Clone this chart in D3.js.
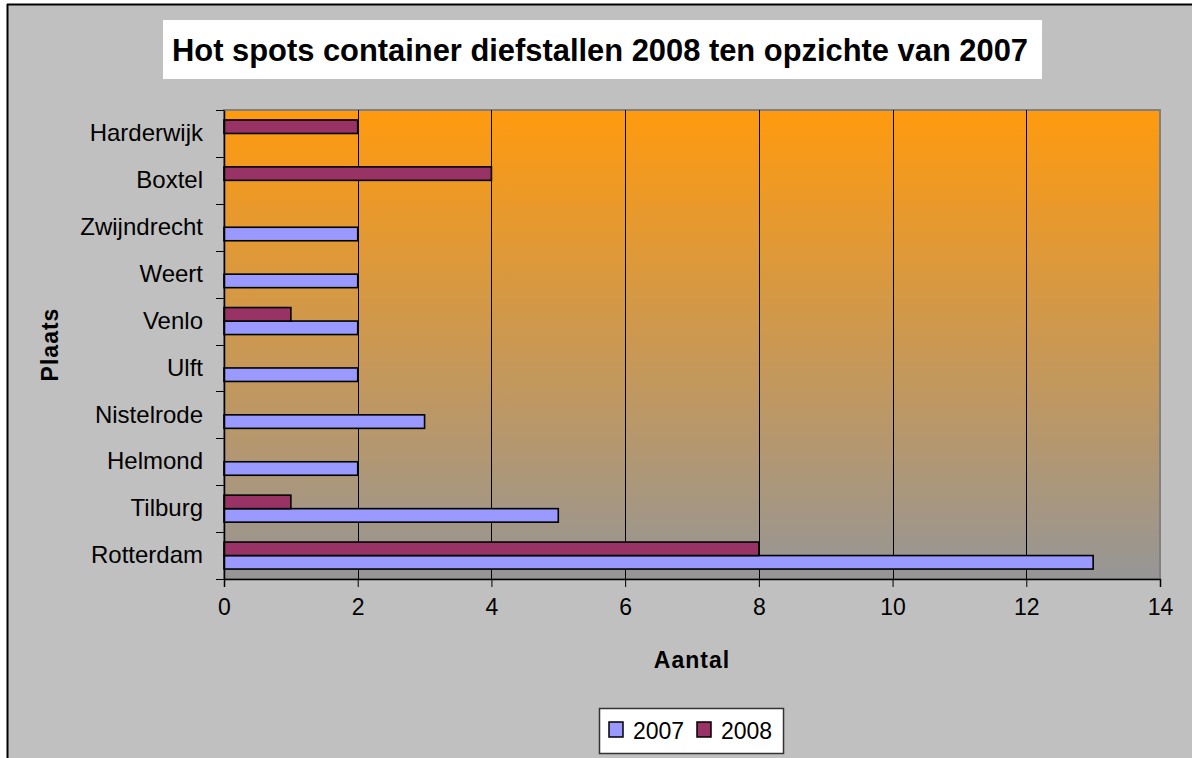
<!DOCTYPE html>
<html>
<head>
<meta charset="utf-8">
<script src="https://cdn.jsdelivr.net/npm/d3@7/dist/d3.min.js"></script>
<style>
  html, body { margin: 0; padding: 0; background: #ffffff; }
  svg { display: block; font-family: "Liberation Sans", Arial, sans-serif; }
</style>
</head>
<body>
<svg id="chart"></svg>
<script>
// data, bottom to top as in the original sheet
var plaatsen = ["Rotterdam", "Tilburg", "Helmond", "Nistelrode", "Ulft", "Venlo", "Weert", "Zwijndrecht", "Boxtel", "Harderwijk"];
var waarden2007 = [13, 5, 2, 3, 2, 2, 2, 2, 0, 0];
var waarden2008 = [8, 1, 0, 0, 0, 1, 0, 0, 4, 2];
var reeksen = ["2007", "2008"];
var kleuren = ["#9999ff", "#993366"];
var xTicks = [0, 2, 4, 6, 8, 10, 12, 14];

var w = 1192, h = 758;
var plot = { left: 224, top: 110, right: 1160, bottom: 579 };

var svg = d3.select("#chart").attr("width", w).attr("height", h);

// chart area
svg.append("rect").attr("x", 7).attr("y", 4).attr("width", w).attr("height", h).attr("fill", "#c0c0c0");
svg.append("line").attr("x1", 7.5).attr("x2", 7.5).attr("y1", 4).attr("y2", h).attr("stroke", "#000").attr("stroke-width", 2);
svg.append("line").attr("x1", 7).attr("x2", w).attr("y1", 4.5).attr("y2", 4.5).attr("stroke", "#000").attr("stroke-width", 2);

var defs = svg.append("defs");
var grad = defs.append("linearGradient").attr("id", "bg").attr("x1", 0).attr("y1", 0).attr("x2", 0).attr("y2", 1);
grad.append("stop").attr("offset", "0%").attr("stop-color", "#ff9a0e");
grad.append("stop").attr("offset", "100%").attr("stop-color", "#969696");

var x = d3.scaleLinear().domain([0, 14]).range([plot.left, plot.right]);
var y = d3.scaleBand().domain(plaatsen.slice().reverse()).range([plot.top, plot.bottom]);

// plot area
svg.append("rect")
  .attr("x", plot.left).attr("y", plot.top)
  .attr("width", plot.right - plot.left).attr("height", plot.bottom - plot.top)
  .attr("fill", "url(#bg)").attr("stroke", "#808080").attr("stroke-width", 2);

// grid lines
svg.selectAll(".grid")
  .data(xTicks.filter(function(d) { return d > 0 && d < 14 }))
  .enter()
  .append("line")
  .attr("class", "grid")
  .attr("x1", function(d) { return Math.round(x(d)) + 0.5 })
  .attr("x2", function(d) { return Math.round(x(d)) + 0.5 })
  .attr("y1", plot.top)
  .attr("y2", plot.bottom)
  .attr("stroke", "#000")
  .attr("stroke-width", 1);

// bars
var barH = 13.5;
var rijen = plaatsen.map(function(p, i) {
  return { plaats: p, v: [waarden2007[i], waarden2008[i]] };
});

var groep = svg.selectAll(".cat")
  .data(rijen)
  .enter()
  .append("g")
  .attr("class", "cat");

groep.selectAll("rect")
  .data(function(d) {
    return d.v.map(function(v, j) { return { plaats: d.plaats, v: v, j: j } }).filter(function(e) { return e.v > 0 });
  })
  .enter()
  .append("rect")
  .attr("x", x(0))
  .attr("y", function(d) {
    var mid = y(d.plaats) + y.bandwidth() / 2;
    return d.j === 0 ? mid : mid - barH;
  })
  .attr("width", function(d) { return x(d.v) - x(0) })
  .attr("height", barH)
  .attr("fill", function(d) { return kleuren[d.j] })
  .attr("stroke", "#000")
  .attr("stroke-width", 1.6);

// axes
var xAxis = d3.axisBottom(x).tickValues(xTicks).tickSize(8).tickPadding(12).tickFormat(d3.format("d"));
var gx = svg.append("g").attr("transform", "translate(0," + plot.bottom + ")").call(xAxis);
gx.select(".domain").attr("stroke", "#000").attr("stroke-width", 1.5);
gx.selectAll(".tick line").attr("stroke", "#000");
gx.selectAll("text").attr("font-size", 23).attr("fill", "#000").attr("font-family", "Liberation Sans, Arial, sans-serif");

var yAxis = d3.axisLeft(y).tickSize(0).tickPadding(21);
var gy = svg.append("g").attr("transform", "translate(" + plot.left + ",0)").call(yAxis);
gy.select(".domain").attr("stroke", "#000").attr("stroke-width", 1.5);
gy.selectAll("text").attr("font-size", 24).attr("fill", "#000").attr("font-family", "Liberation Sans, Arial, sans-serif");

// y ticks on category boundaries
var grenzen = y.domain().map(function(d) { return y(d) }).concat([plot.bottom]);
svg.selectAll(".ytick")
  .data(grenzen)
  .enter()
  .append("line")
  .attr("class", "ytick")
  .attr("x1", plot.left - 8)
  .attr("x2", plot.left)
  .attr("y1", function(d) { return Math.round(d) + 0.5 })
  .attr("y2", function(d) { return Math.round(d) + 0.5 })
  .attr("stroke", "#000");

// title
svg.append("rect").attr("x", 163).attr("y", 20).attr("width", 879).attr("height", 59).attr("fill", "#fff");
svg.append("text")
  .attr("x", 600).attr("y", 61)
  .attr("text-anchor", "middle")
  .attr("font-size", 31).attr("font-weight", "bold")
  .attr("textLength", 856).attr("lengthAdjust", "spacingAndGlyphs")
  .text("Hot spots container diefstallen 2008 ten opzichte van 2007");

// axis titles
svg.append("text")
  .attr("x", (plot.left + plot.right) / 2).attr("y", 668)
  .attr("text-anchor", "middle")
  .attr("font-size", 23).attr("font-weight", "bold").attr("letter-spacing", 1)
  .text("Aantal");

svg.append("text")
  .attr("transform", "translate(58," + ((plot.top + plot.bottom) / 2) + ") rotate(-90)")
  .attr("text-anchor", "middle")
  .attr("font-size", 23).attr("font-weight", "bold").attr("letter-spacing", 1)
  .text("Plaats");

// legend
var legendData = reeksen.map(function(r, i) { return { naam: r, kleur: kleuren[i] } });
var leg = svg.append("g").attr("transform", "translate(599,708)");
leg.append("rect").attr("x", 0.5).attr("y", 0.5).attr("width", 184).attr("height", 45).attr("fill", "#fff").attr("stroke", "#333").attr("stroke-width", 1.5);
var item = leg.selectAll(".item")
  .data(legendData)
  .enter()
  .append("g")
  .attr("class", "item")
  .attr("transform", function(d, i) { return "translate(" + (10 + i * 88) + ",0)" });
item.append("rect").attr("x", 0).attr("y", 14).attr("width", 14).attr("height", 15)
  .attr("fill", function(d) { return d.kleur }).attr("stroke", "#000").attr("stroke-width", 1.5);
item.append("text").attr("x", 24).attr("y", 31).attr("font-size", 23).text(function(d) { return d.naam });
</script>
</body>
</html>
